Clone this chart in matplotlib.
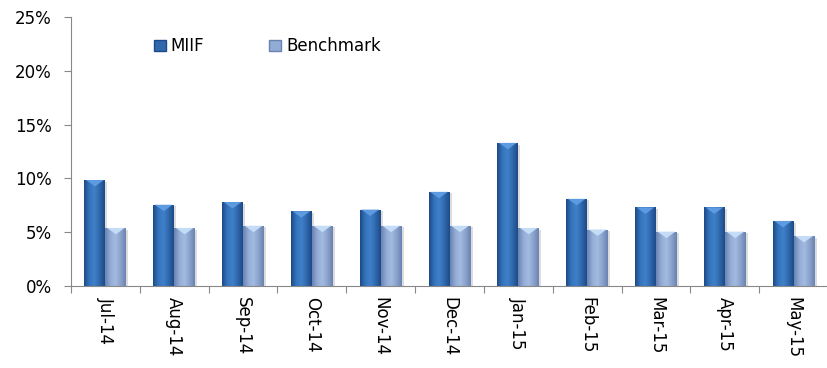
import numpy as np
import matplotlib
matplotlib.use("Agg")
import matplotlib.pyplot as plt
from matplotlib.colors import LinearSegmentedColormap
from matplotlib.patches import Polygon, Patch, Rectangle
from matplotlib.ticker import FuncFormatter, MultipleLocator

meses = ["Jul-14", "Aug-14", "Sep-14", "Oct-14", "Nov-14", "Dec-14",
         "Jan-15", "Feb-15", "Mar-15", "Apr-15", "May-15"]
miif = [9.85, 7.55, 7.8, 6.95, 7.1, 8.75, 13.3, 8.1, 7.3, 7.3, 6.05]
benchmark = [5.4, 5.4, 5.6, 5.6, 5.6, 5.6, 5.4, 5.25, 5.05, 5.05, 4.65]

plt.rcParams["font.family"] = ["DejaVu Sans"]

cmap_miif = LinearSegmentedColormap.from_list(
    "miif", ["#1d4a87", "#3474bd", "#3f80c8", "#2f68ad", "#1d4a87"])
cmap_bench = LinearSegmentedColormap.from_list(
    "bench", ["#6a82b0", "#93acd6", "#a3bbe0", "#8aa2cc", "#6a82b0"])

fig = plt.figure(figsize=(8.28, 3.68), dpi=100)
ax = fig.add_axes([71 / 828, 1 - 286 / 368, 757 / 828, 269 / 368])

x = np.arange(len(meses))
ancho = 0.305
barras_a = ax.bar(x - ancho / 2, miif, ancho, color="#3474bd", zorder=2)
barras_b = ax.bar(x + ancho / 2, benchmark, ancho, color="#93acd6", zorder=2)

grad = np.linspace(0, 1, 64).reshape(1, -1)


def pintar(barras, cmap, tapa):
    # degradado horizontal, sombra suave y bisel claro arriba
    for b in barras:
        x0, y0 = b.get_x(), b.get_y()
        w, h = b.get_width(), b.get_height()
        b.set_facecolor("none")
        sombra = Rectangle((x0 + 0.03, y0 - 0.15), w, h, facecolor="#bbbbbb",
                           edgecolor="none", alpha=0.5, zorder=1.5)
        ax.add_patch(sombra)
        im = ax.imshow(grad, extent=[x0, x0 + w, y0, y0 + h], cmap=cmap,
                       aspect="auto", zorder=2, interpolation="bicubic")
        im.set_clip_path(b)
        tri = Polygon([[x0 + w * 0.08, y0 + h], [x0 + w * 0.92, y0 + h],
                       [x0 + w * 0.5, y0 + h - 0.6]],
                      closed=True, facecolor=tapa, edgecolor="none", zorder=3)
        ax.add_patch(tri)


pintar(barras_a, cmap_miif, "#5d9ae0")
pintar(barras_b, cmap_bench, "#c4dcf6")

ax.set_xlim(-0.5, len(meses) - 0.5)
ax.set_ylim(0, 25)
ax.yaxis.set_major_locator(MultipleLocator(5))
ax.yaxis.set_major_formatter(FuncFormatter(lambda v, p: f"{v:.0f}%"))

ax.set_xticks(np.arange(len(meses) + 1) - 0.5, minor=False)
ax.set_xticklabels([])
ax.set_xticks(x, minor=True)
ax.set_xticklabels(meses, minor=True, rotation=-90, fontsize=12)
ax.tick_params(axis="x", which="minor", length=0, pad=8)
ax.tick_params(axis="x", which="major", length=5, color="#888888")
ax.tick_params(axis="y", length=5, color="#888888", labelsize=12, pad=9)

for lado in ["top", "right"]:
    ax.spines[lado].set_visible(False)
for lado in ["left", "bottom"]:
    ax.spines[lado].set_color("#888888")

handles = [Patch(facecolor="#2f68ad", edgecolor="#1d4a87"),
           Patch(facecolor="#93acd6", edgecolor="#6a82b0")]
ax.legend(handles, ["MIIF", "Benchmark"], loc="upper left", ncol=2,
          frameon=False, fontsize=12, handlelength=0.7, handleheight=0.7,
          handletextpad=0.3, columnspacing=3.9,
          bbox_to_anchor=(0.09, 0.98))

fig.savefig("out.png", dpi=100)
